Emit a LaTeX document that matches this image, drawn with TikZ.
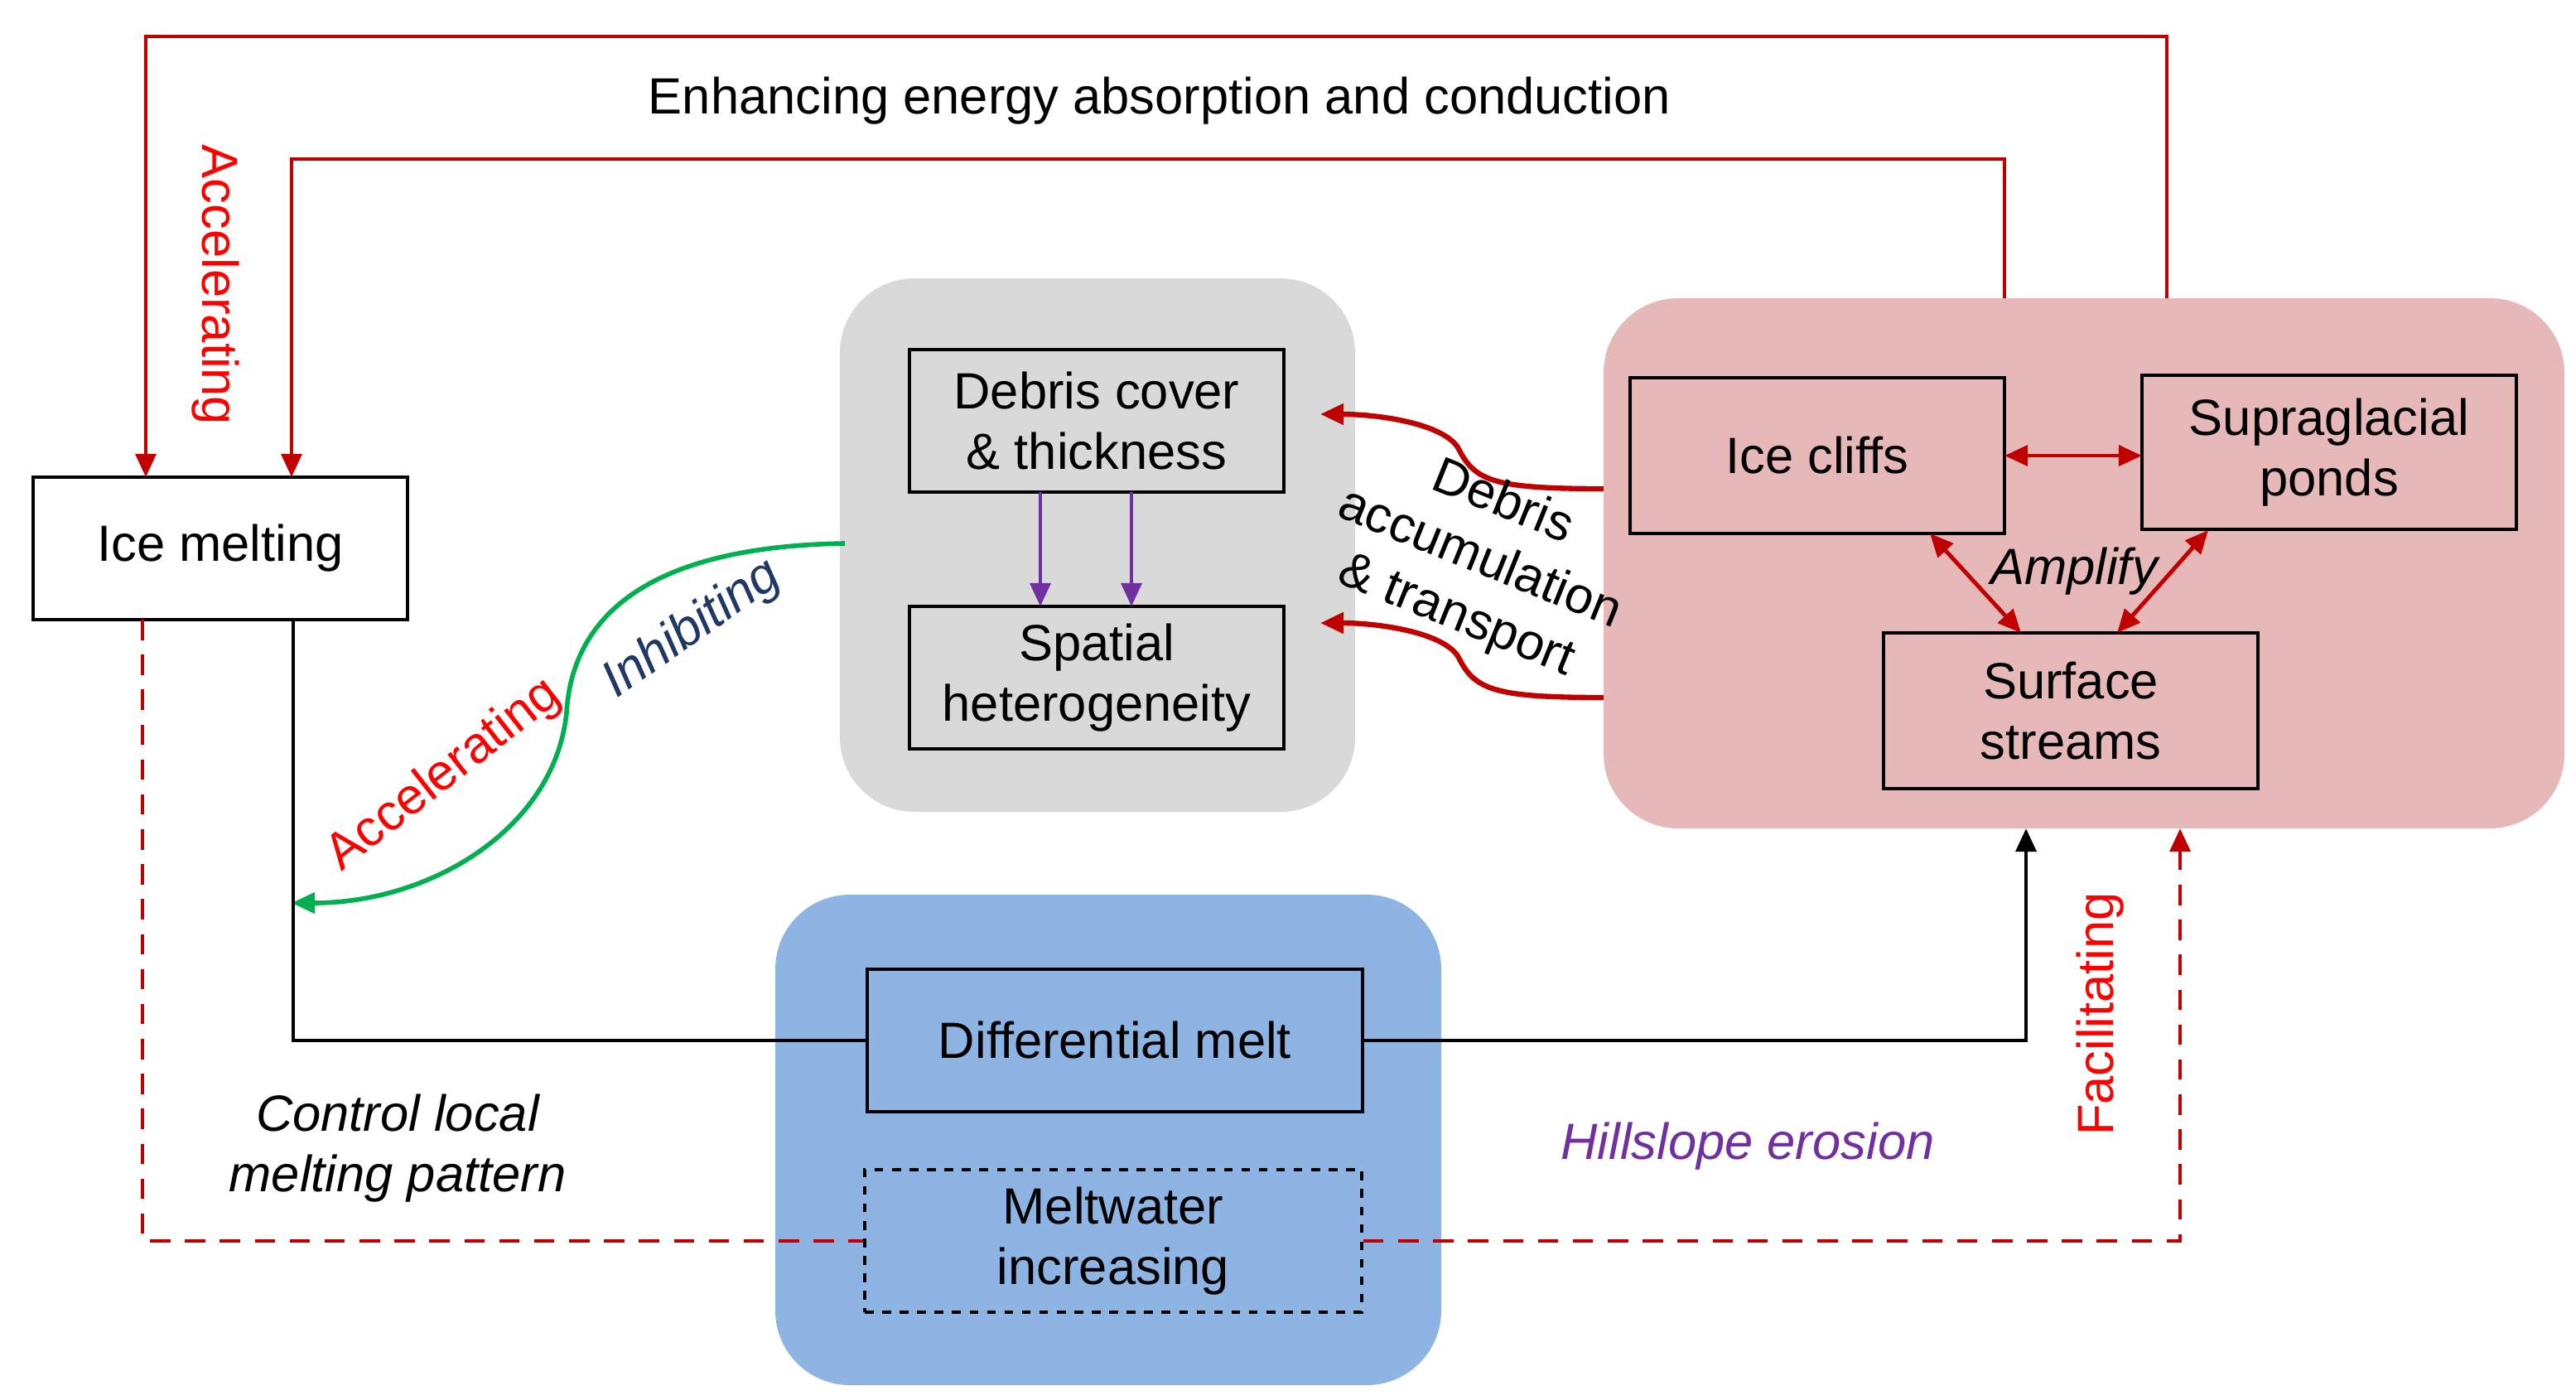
\documentclass[tikz,border=0pt]{standalone}
\usepackage{fontspec}
\setmainfont{Liberation Sans}
\usetikzlibrary{arrows.meta}
\definecolor{dred}{HTML}{C00000}
\definecolor{lred}{HTML}{FF0000}
\definecolor{gbg}{HTML}{D9D9D9}
\definecolor{pbg}{HTML}{E6B9B8}
\definecolor{bbg}{HTML}{8EB4E3}
\definecolor{pur}{HTML}{7030A0}
\definecolor{grn}{HTML}{00B050}
\definecolor{navy}{HTML}{1F3864}
\begin{document}
\begin{tikzpicture}[x=0.02cm,y=-0.02cm,
  font=\fontsize{17.5}{21}\selectfont,
  box/.style={draw=black,line width=1.3pt,minimum width=4.52cm,minimum height=1.72cm,align=center,inner sep=0pt},
  region/.style={rounded corners=0.9cm},
  arr/.style={-{Triangle[length=8pt,width=7pt]}},
  darr/.style={{Triangle[length=8pt,width=7pt]}-{Triangle[length=8pt,width=7pt]}},
  rl/.style={dred,line width=1.4pt},
  lab/.style={font=\fontsize{17.5}{21}\selectfont},
  itl/.style={font=\fontsize{17.5}{21}\selectfont\itshape}]
\useasboundingbox[fill=white] (0,0) rectangle (1555,845);
% regions
\fill[gbg,region] (507,168) rectangle (818,490);
\fill[pbg,region] (968,180) rectangle (1548,500);
\fill[bbg,region] (468,540) rectangle (870,836);
% boxes
\node[box,fill=white] (ice) at (133,331) {Ice melting};
\node[box] (deb) at (662,254) {Debris cover\\\& thickness};
\node[box] (spa) at (662,409) {Spatial\\heterogeneity};
\node[box,minimum height=1.88cm] (cliff) at (1097,275) {Ice cliffs};
\node[box,minimum height=1.86cm] (pond) at (1406,273) {Supraglacial\\ponds};
\node[box,minimum height=1.88cm] (str) at (1250,429) {Surface\\streams};
\node[box,minimum width=5.98cm] (diff) at (673,628) {Differential melt};
\node[box,minimum width=6cm,dashed,line width=1.1pt] (mw) at (672,749) {Meltwater\\increasing};
% coordinates
\coordinate (p1) at (1308,180);
\coordinate (p2) at (1210,180);
\coordinate (g1) at (510,328);
\coordinate (g2) at (176,545);
\coordinate (r1) at (968,295);
\coordinate (r2) at (968,421);
\coordinate (t1) at (797,250);
\coordinate (t2) at (797,376);
\coordinate (s1) at (1223,500);
\coordinate (s2) at (1316,500);
% top red lines
\draw[rl,arr] (p1) -- (1308,22) -- (88,22) -- (88,288);
\draw[rl,arr] (p2) -- (1210,96) -- (176,96) -- (176,288);
\node[lred,rotate=-90,lab] (acc1) at (130,172) {Accelerating};
\node[lab] (enh) at (700,61) {Enhancing energy absorption and conduction};
% purple
\draw[pur,line width=1.4pt,arr] (628,297) -- (628,366);
\draw[pur,line width=1.4pt,arr] (683,297) -- (683,366);
% red curves
\draw[rl,line width=1.8pt,arr] (r1) .. controls (900,295) and (890,290) .. (880,270) .. controls (870,255) and (830,250) .. (t1);
\draw[rl,line width=1.8pt,arr] (r2) .. controls (900,421) and (890,416) .. (880,396) .. controls (870,381) and (830,376) .. (t2);
\node[lab,rotate=-22,align=center,inner sep=0pt] (dat) at (893,338) {Debris\\accumulation\\\& transport};
% amplify
\draw[rl,darr] (1210,275) -- (1293,275);
\draw[rl,darr] (1165,322) -- (1220,382);
\draw[rl,darr] (1333,320) -- (1278,382);
\node[itl] (amp) at (1252,345) {Amplify};
% green
\draw[grn,line width=1.6pt,arr] (g1) .. controls (380,330) and (345,380) .. (342,430) .. controls (335,500) and (260,545) .. (g2);
\node[navy,rotate=35,itl,inner sep=0pt] (inh) at (418,380) {Inhibiting};
\node[lred,rotate=38,lab,inner sep=0pt] (acc2) at (268,468) {Accelerating};
% black
\draw[line width=1.4pt] (177,374) -- (177,628) -- (diff.west);
\draw[line width=1.4pt,arr] (diff.east) -- (1223,628) -- (s1);
% dashed red
\draw[rl,dash pattern=on 7pt off 5pt] (86,374) -- (86,749) -- (mw.west);
\draw[rl,dash pattern=on 7pt off 5pt,arr] (mw.east) -- (1316,749) -- (s2);
\node[itl,align=center] (ctl) at (240,693) {Control local\\melting pattern};
\node[pur,itl] (hill) at (1055,692) {Hillslope erosion};
\node[lred,rotate=90,lab] (fac) at (1268,612) {Facilitating};
\end{tikzpicture}
\end{document}
